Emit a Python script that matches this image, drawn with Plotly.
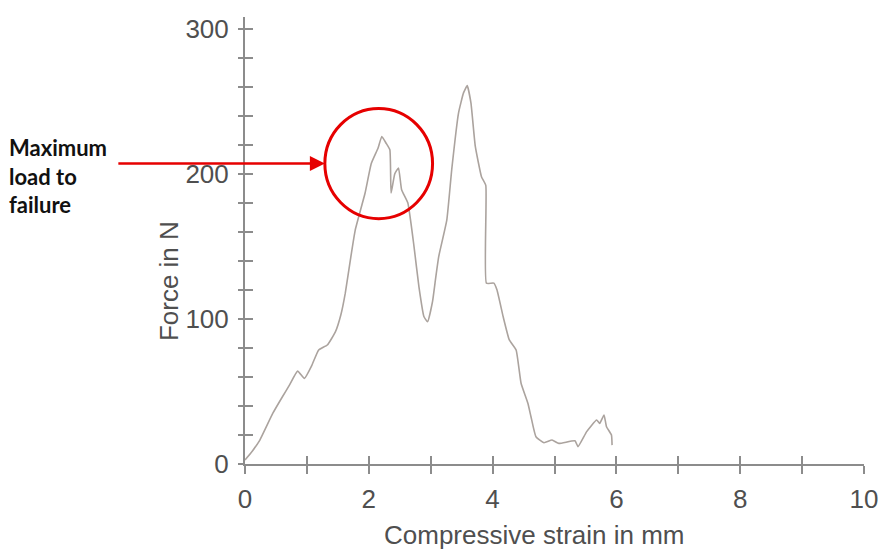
import plotly.graph_objects as go

# Data
strain_mm = [0.00, 0.12, 0.24, 0.45, 0.60, 0.72, 0.85, 0.96, 1.08, 1.19, 1.33, 1.46, 1.55, 1.62,
             1.70, 1.78, 1.94, 2.04, 2.15, 2.21, 2.28, 2.34, 2.36, 2.42, 2.48, 2.53, 2.63, 2.73,
             2.81, 2.89, 2.95, 3.03, 3.08, 3.13, 3.26, 3.34, 3.45, 3.53, 3.59, 3.65, 3.72, 3.82,
             3.89, 3.90, 4.02, 4.07, 4.17, 4.27, 4.38, 4.46, 4.57, 4.62, 4.70, 4.83, 4.96, 5.07,
             5.33, 5.38, 5.52, 5.68, 5.73, 5.80, 5.84, 5.92, 5.93]
force_n = [2.8, 9, 16.5, 35, 46, 54.5, 64, 59, 68, 78.6, 82, 91, 103, 117.7,
           140, 161, 186.7, 207, 217.7, 225.7, 221, 216.5, 186.7, 200, 204, 189, 180, 150,
           122, 101.6, 98, 112, 128, 143, 168, 203, 242, 255.7, 260.7, 248.8, 219, 198,
           192, 124.6, 124.6, 120, 101.6, 85.5, 78.6, 55.6, 41.8, 32.6, 18.8, 14.7, 16.5, 14.2,
           16, 12, 22.3, 30.3, 28, 33.8, 25.7, 20, 13]

x_tick_vals = list(range(0, 11))
x_tick_text = [str(v) if v % 2 == 0 else "" for v in x_tick_vals]
y_tick_vals = list(range(0, 301, 20))
y_tick_text = [str(v) if v % 100 == 0 else "" for v in y_tick_vals]

# Highlight (maximum load to failure)
circle_center = (2.16, 207)
circle_radius = (0.87, 38)

AXIS_COL = "#8c8c8c"
TEXT_COL = "#4f4f4f"
LINE_COL = "#aba39e"
RED = "#e60000"
FONT = "Liberation Sans, Arial, sans-serif"

fig = go.Figure()
fig.add_trace(go.Scatter(x=strain_mm, y=force_n, mode="lines",
                         line=dict(color=LINE_COL, width=1.6, shape="spline", smoothing=0.4),
                         showlegend=False, hoverinfo="skip"))
# empty trace to activate overlay axes (inward half of the crossing ticks)
fig.add_trace(go.Scatter(x=[], y=[], xaxis="x2", yaxis="y2", showlegend=False))

common_x = dict(range=[0, 10], tickvals=x_tick_vals, showgrid=False, zeroline=False,
                tickcolor=AXIS_COL, tickwidth=1.5, ticklen=8)
common_y = dict(range=[0, 308], tickvals=y_tick_vals, showgrid=False, zeroline=False,
                tickcolor=AXIS_COL, tickwidth=1.5)

fig.update_layout(
    width=890, height=555,
    margin=dict(l=245, r=17, t=17, b=91),
    paper_bgcolor="white", plot_bgcolor="white",
    xaxis=dict(**common_x, ticktext=x_tick_text, ticks="outside", showline=True,
               linecolor=AXIS_COL, linewidth=2,
               tickfont=dict(family=FONT, size=26, color=TEXT_COL), ticklabelstandoff=3),
    yaxis=dict(**common_y, ticktext=y_tick_text, ticks="outside", ticklen=5, showline=True,
               linecolor=AXIS_COL, linewidth=2,
               tickfont=dict(family=FONT, size=26, color=TEXT_COL), ticklabelstandoff=4),
    xaxis2=dict(**common_x, overlaying="x", anchor="y2", side="bottom", ticks="inside",
                showticklabels=False, showline=False),
    yaxis2=dict(**common_y, overlaying="y", anchor="x2", side="left", ticks="inside",
                ticklen=8, showticklabels=False, showline=False),
)

# Axis titles (placed as in reference)
fig.add_annotation(text="Compressive strain in mm", xref="paper", yref="paper",
                   x=(539 - 245) / 628, y=-(535 - 464) / 447, showarrow=False,
                   font=dict(family=FONT, size=26, color=TEXT_COL),
                   xanchor="center", yanchor="middle")
fig.add_annotation(text="Force in N", xref="paper", yref="paper", textangle=-90,
                   x=-(245 - 168) / 628, y=(464 - 281) / 447, showarrow=False,
                   font=dict(family=FONT, size=26, color=TEXT_COL),
                   xanchor="center", yanchor="middle")

# Red circle and arrow
fig.add_shape(type="circle", xref="x", yref="y",
              x0=circle_center[0] - circle_radius[0], x1=circle_center[0] + circle_radius[0],
              y0=circle_center[1] - circle_radius[1], y1=circle_center[1] + circle_radius[1],
              line=dict(color=RED, width=3))
fig.add_annotation(x=circle_center[0] - circle_radius[0], y=circle_center[1], xref="x", yref="y",
                   ax=-208, ay=0, axref="pixel", ayref="pixel", text="", showarrow=True,
                   arrowhead=2, arrowsize=1.2, arrowwidth=2.5, arrowcolor=RED)
fig.add_annotation(text="<b>Maximum<br>load to<br>failure</b>", xref="paper", yref="paper",
                   x=-(245 - 4) / 628, y=(464 - 132) / 447, showarrow=False,
                   align="left", xanchor="left", yanchor="top",
                   font=dict(family="Lato, Open Sans, sans-serif", size=22, color="#111111"))

fig.write_html("out.html")
